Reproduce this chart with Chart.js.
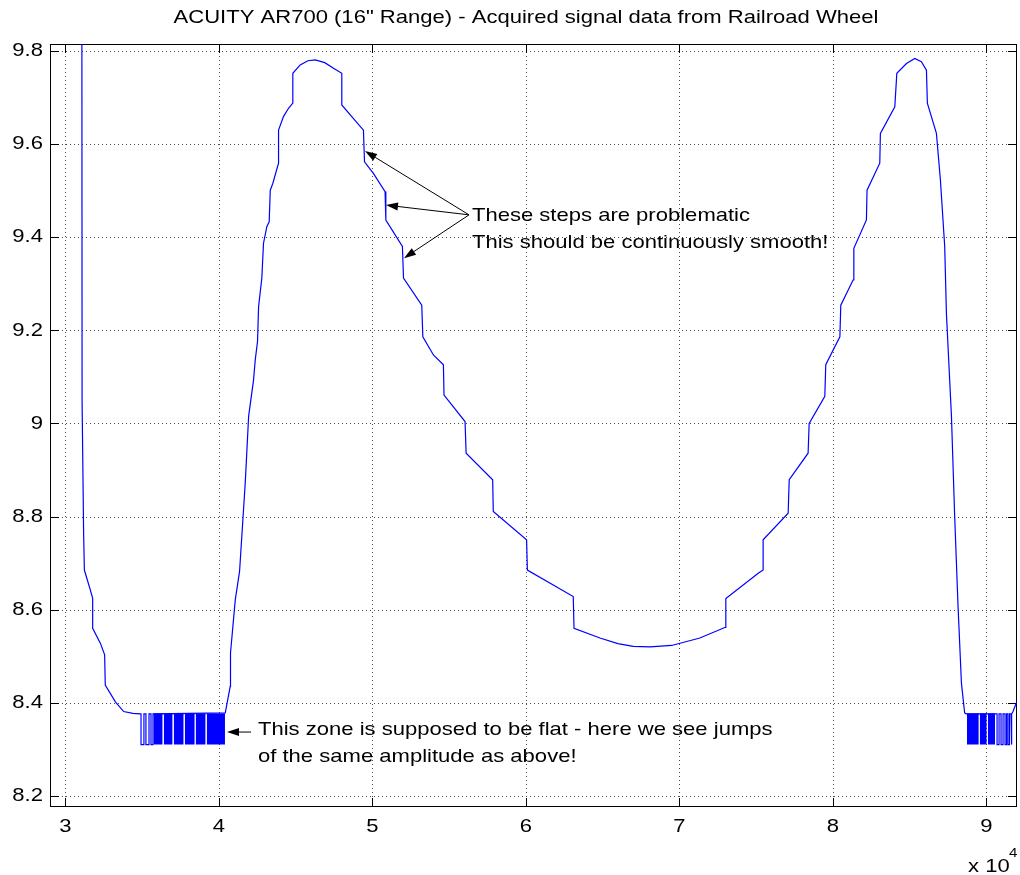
<!DOCTYPE html>
<html>
<head>
<meta charset="utf-8">
<title>ACUITY AR700 signal</title>
<script src="https://cdn.jsdelivr.net/npm/chart.js@4.4.1/dist/chart.umd.min.js"></script>
<style>
html, body { margin: 0; padding: 0; background: #ffffff; overflow: hidden; }
</style>
</head>
<body>
<canvas id="chart" width="1020" height="875" style="display:block;width:1020px;height:875px"></canvas>
<script>
// ---------------- data (x in units of 10^4 samples) ----------------
const xTickValues = [3, 4, 5, 6, 7, 8, 9];
const xTickLabels = ['3', '4', '5', '6', '7', '8', '9'];
const yTickValues = [8.2, 8.4, 8.6, 8.8, 9, 9.2, 9.4, 9.6, 9.8];
const yTickLabels = ['8.2', '8.4', '8.6', '8.8', '9', '9.2', '9.4', '9.6', '9.8'];

// left descent
const seg1X = [3.107, 3.109, 3.119, 3.124, 3.163, 3.178, 3.178, 3.228, 3.256, 3.260, 3.326, 3.380, 3.440, 3.488];
const seg1Y = [10.30, 9.050, 8.764, 8.685, 8.642, 8.624, 8.560, 8.528, 8.503, 8.438, 8.402, 8.381, 8.377, 8.376];

// flat zone levels
const flatHigh = 8.376;
const flatLow = 8.310;
// isolated jumps (x where the signal switches level) in the first flat zone
const jumps1X = [3.493, 3.512, 3.525, 3.545, 3.558, 3.571];
// stretches of very dense jumping (appear as solid blocks) in the first flat zone: [start, end]
const bursts1 = [[3.574, 3.634], [3.641, 3.699], [3.706, 3.771], [3.778, 3.843], [3.849, 3.914], [3.921, 4.040]];

// rise, first peak, stepped descent, valley, stepped rise, second peak, descent
const seg2X = [4.042, 4.074, 4.076, 4.107, 4.135, 4.172, 4.194, 4.226, 4.237, 4.252, 4.259, 4.280, 4.291, 4.313,
  4.328, 4.335, 4.352, 4.389, 4.389, 4.421, 4.454, 4.482, 4.482, 4.530, 4.580, 4.628, 4.690, 4.747, 4.801, 4.801,
  4.866, 4.942, 4.949, 5.007, 5.083, 5.088, 5.196, 5.203, 5.322, 5.329, 5.398, 5.463, 5.467, 5.604, 5.611, 5.784,
  5.788, 6.005, 6.010, 6.309, 6.314, 6.483, 6.600, 6.700, 6.809, 6.950, 7.134, 7.300, 7.303, 7.514, 7.546, 7.546,
  7.709, 7.716, 7.839, 7.846, 7.948, 7.954, 8.046, 8.052, 8.132, 8.137, 8.219, 8.223, 8.306, 8.310, 8.404, 8.417,
  8.480, 8.534, 8.577, 8.610, 8.616, 8.675, 8.701, 8.729, 8.740, 8.773, 8.794, 8.816, 8.838, 8.859, 8.870];
const seg2Y = [8.378, 8.435, 8.507, 8.621, 8.682, 8.872, 9.015, 9.093, 9.136, 9.176, 9.251, 9.312, 9.387, 9.423,
  9.433, 9.501, 9.516, 9.559, 9.630, 9.659, 9.677, 9.688, 9.752, 9.770, 9.779, 9.781, 9.775, 9.763, 9.752, 9.684,
  9.659, 9.630, 9.562, 9.537, 9.498, 9.437, 9.380, 9.312, 9.254, 9.186, 9.147, 9.126, 9.061, 9.004, 8.936, 8.879,
  8.811, 8.750, 8.685, 8.628, 8.560, 8.539, 8.527, 8.521, 8.520, 8.523, 8.539, 8.562, 8.624, 8.678, 8.685, 8.750,
  8.807, 8.879, 8.936, 9.000, 9.058, 9.126, 9.186, 9.254, 9.308, 9.376, 9.437, 9.501, 9.559, 9.623, 9.680, 9.752,
  9.773, 9.784, 9.777, 9.759, 9.688, 9.623, 9.523, 9.380, 9.237, 9.015, 8.800, 8.606, 8.442, 8.378, 8.376];

// second flat zone
const bursts2 = [[8.874, 8.951], [8.957, 9.003], [9.010, 9.057]];
const jumps2X = [9.070, 9.083, 9.096, 9.109, 9.122, 9.132, 9.141, 9.151, 9.161, 9.167];

// tail
const seg3X = [9.174, 9.196, 9.215];
const seg3Y = [8.381, 8.400, 8.410];

// ---------------- build the point tables ----------------
const points = [];
function addSeg(xs, ys) { xs.forEach((x, i) => points.push({ x: x, y: ys[i] })); }
function addJumps(xs) {
  let high = true;
  xs.forEach(x => {
    points.push({ x: x, y: high ? flatHigh : flatLow });
    high = !high;
    points.push({ x: x, y: high ? flatHigh : flatLow });
  });
}
addSeg(seg1X, seg1Y);
addJumps(jumps1X);
addSeg(seg2X, seg2Y);
addJumps(jumps2X);
addSeg(seg3X, seg3Y);

const burstPoints = [];
bursts1.concat(bursts2).forEach(b => {
  burstPoints.push({ x: b[0], y: flatHigh });
  burstPoints.push({ x: b[1], y: flatHigh });
  burstPoints.push({ x: b[1], y: null });
});

// ---------------- text / annotations ----------------
const titleText = 'ACUITY AR700 (16" Range) - Acquired signal data from Railroad Wheel';
const stepsNote = {
  from: [5.630, 9.448],
  tips: [[4.952, 9.585], [5.089, 9.469], [5.206, 9.355]],
  lines: [[5.649, 9.446, 'These steps are problematic'], [5.649, 9.388, 'This should be continuously smooth!']]
};
const flatNote = {
  from: [4.210, 8.337],
  tip: [4.053, 8.337],
  lines: [[4.255, 8.341, 'This zone is supposed to be flat - here we see jumps'], [4.255, 8.283, 'of the same amplitude as above!']]
};

const FONT = '"Liberation Sans", Arial, Helvetica, sans-serif';
const FONT_SIZE = 19;
const SX = 1.16; // horizontal stretch of the original figure's text

function stretchedText(ctx, text, x, y, align, baseline, size) {
  ctx.save();
  ctx.font = size + 'px ' + FONT;
  ctx.fillStyle = '#000000';
  ctx.textAlign = align;
  ctx.textBaseline = baseline;
  ctx.translate(x, y);
  ctx.scale(SX, 1);
  ctx.fillText(text, 0, 0);
  ctx.restore();
}

function arrow(ctx, x0, y0, x1, y1) {
  const a = Math.atan2(y1 - y0, x1 - x0);
  const L = 12, W = 4;
  const bx = x1 - L * Math.cos(a), by = y1 - L * Math.sin(a);
  ctx.beginPath(); ctx.moveTo(x0, y0); ctx.lineTo(bx, by); ctx.stroke();
  ctx.beginPath();
  ctx.moveTo(x1, y1);
  ctx.lineTo(bx + W * Math.sin(a), by - W * Math.cos(a));
  ctx.lineTo(bx - W * Math.sin(a), by + W * Math.cos(a));
  ctx.closePath(); ctx.fill();
}

// stretch Chart.js tick label text horizontally like the original
const stretchTicks = {
  id: 'stretchTicks',
  beforeDraw(chart) {
    Object.values(chart.scales).forEach(s => {
      if (s._stretched) return;
      const orig = s.drawLabels;
      s.drawLabels = function (area) {
        const ctx = this.ctx;
        const proto = CanvasRenderingContext2D.prototype.fillText;
        ctx.fillText = function (t, x, y) {
          this.save(); this.translate(x, y); this.scale(SX, 1); proto.call(this, t, 0, 0); this.restore();
        };
        try { orig.call(this, area); } finally { delete ctx.fillText; }
      };
      s._stretched = true;
    });
  }
};

const matlabAxes = {
  id: 'matlabAxes',
  beforeDatasetsDraw(chart) {
    const { ctx, chartArea: a, scales: { x, y } } = chart;
    ctx.save();
    ctx.lineWidth = 1;
    ctx.strokeStyle = '#4a4a4a';
    ctx.setLineDash([1, 3]);
    xTickValues.forEach(v => {
      const px = Math.round(x.getPixelForValue(v)) + 0.5;
      ctx.beginPath(); ctx.moveTo(px, a.top); ctx.lineTo(px, a.bottom); ctx.stroke();
    });
    yTickValues.forEach(v => {
      const py = Math.round(y.getPixelForValue(v)) + 0.5;
      ctx.beginPath(); ctx.moveTo(a.left, py); ctx.lineTo(a.right, py); ctx.stroke();
    });
    ctx.setLineDash([]);
    ctx.strokeStyle = '#000000';
    const T = 9;
    xTickValues.forEach(v => {
      const px = Math.round(x.getPixelForValue(v)) + 0.5;
      ctx.beginPath();
      ctx.moveTo(px, a.top); ctx.lineTo(px, a.top + T);
      ctx.moveTo(px, a.bottom); ctx.lineTo(px, a.bottom - T);
      ctx.stroke();
    });
    yTickValues.forEach(v => {
      const py = Math.round(y.getPixelForValue(v)) + 0.5;
      ctx.beginPath();
      ctx.moveTo(a.left, py); ctx.lineTo(a.left + T, py);
      ctx.moveTo(a.right, py); ctx.lineTo(a.right - T, py);
      ctx.stroke();
    });
    ctx.strokeRect(Math.round(a.left) + 0.5, Math.round(a.top) + 0.5,
      Math.round(a.right) - Math.round(a.left) - 1, Math.round(a.bottom) - Math.round(a.top) - 1);
    ctx.restore();
  },
  afterDraw(chart) {
    const { ctx, scales: { x, y } } = chart;
    ctx.save();
    stretchedText(ctx, titleText, 526, 18, 'center', 'middle', FONT_SIZE);
    stretchedText(ctx, 'x 10', 968, 872, 'left', 'alphabetic', FONT_SIZE);
    stretchedText(ctx, '4', 1009, 857, 'left', 'alphabetic', 13);
    ctx.strokeStyle = '#000000';
    ctx.fillStyle = '#000000';
    ctx.lineWidth = 1;
    const fx = x.getPixelForValue(stepsNote.from[0]), fy = y.getPixelForValue(stepsNote.from[1]);
    stepsNote.tips.forEach(t => arrow(ctx, fx, fy, x.getPixelForValue(t[0]), y.getPixelForValue(t[1])));
    arrow(ctx, x.getPixelForValue(flatNote.from[0]), y.getPixelForValue(flatNote.from[1]),
      x.getPixelForValue(flatNote.tip[0]), y.getPixelForValue(flatNote.tip[1]));
    stepsNote.lines.concat(flatNote.lines).forEach(l => {
      stretchedText(ctx, l[2], x.getPixelForValue(l[0]), y.getPixelForValue(l[1]), 'left', 'middle', FONT_SIZE);
    });
    ctx.restore();
  }
};

new Chart(document.getElementById('chart'), {
  type: 'line',
  data: {
    datasets: [{
      data: points,
      borderColor: '#0000ff',
      borderWidth: 1.2,
      pointRadius: 0,
      tension: 0,
      fill: false,
      clip: 0
    }, {
      data: burstPoints,
      borderColor: '#0000ff',
      borderWidth: 1,
      backgroundColor: '#0000ff',
      pointRadius: 0,
      tension: 0,
      spanGaps: false,
      fill: { value: flatLow },
      clip: 0
    }]
  },
  options: {
    responsive: false,
    animation: false,
    devicePixelRatio: 1,
    parsing: false,
    events: [],
    layout: { padding: { top: 44, right: 3, left: 0, bottom: 0 } },
    plugins: { legend: { display: false }, tooltip: { enabled: false }, title: { display: false } },
    scales: {
      x: {
        type: 'linear', min: 2.9, max: 9.2,
        grid: { display: false, drawTicks: false },
        border: { display: false },
        afterBuildTicks: s => { s.ticks = xTickValues.map(v => ({ value: v })); },
        afterFit: s => { s.height = 68; },
        ticks: {
          autoSkip: false, maxRotation: 0, minRotation: 0, padding: 8, color: '#000000',
          font: { family: FONT, size: FONT_SIZE },
          callback: (v, i) => xTickLabels[i]
        }
      },
      y: {
        type: 'linear', min: 8.176, max: 9.815,
        grid: { display: false, drawTicks: false },
        border: { display: false },
        afterBuildTicks: s => { s.ticks = yTickValues.map(v => ({ value: v })); },
        afterFit: s => { s.width = 50; },
        ticks: {
          autoSkip: false, padding: 7, color: '#000000',
          font: { family: FONT, size: FONT_SIZE },
          callback: (v, i) => yTickLabels[i]
        }
      }
    }
  },
  plugins: [stretchTicks, matlabAxes]
});
</script>
</body>
</html>
